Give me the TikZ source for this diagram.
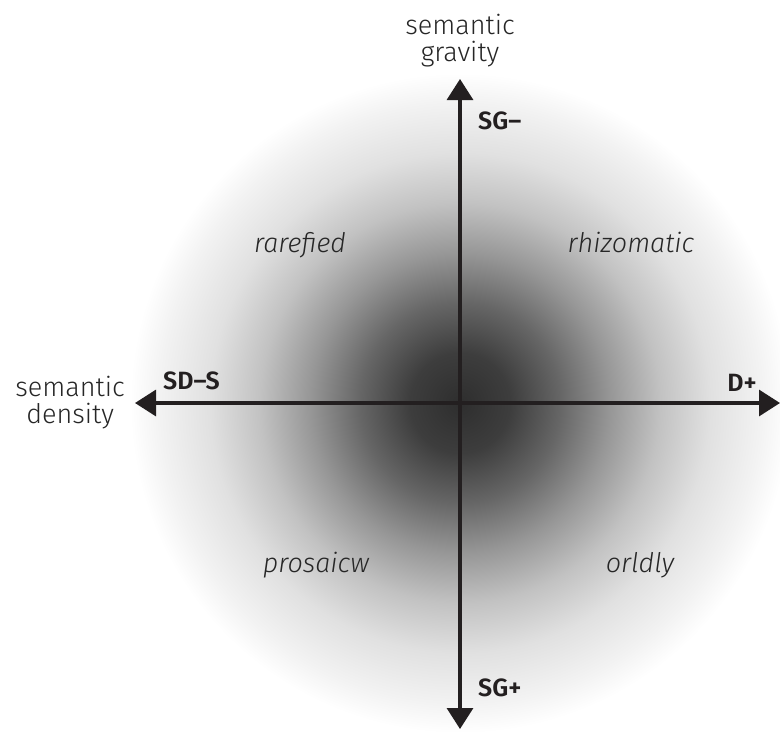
\documentclass[tikz,border=0pt]{standalone}
\usepackage{fontspec}
\setmainfont{Fira Sans}[UprightFont=* Light, ItalicFont=* Light Italic, BoldFont=* SemiBold]
\usetikzlibrary{positioning, arrows.meta}

\definecolor{axisblack}{HTML}{231F20}
\definecolor{labelgray}{HTML}{262626}

\pgfdeclareradialshading{densityblob}{\pgfpoint{0bp}{0bp}}{%
  color(0bp)=(black!82); color(3.8bp)=(black!76); color(7.6bp)=(black!60);
  color(11.35bp)=(black!41); color(15.15bp)=(black!24); color(18.95bp)=(black!12);
  color(22.75bp)=(black!5); color(25bp)=(white); color(50bp)=(white)}

\begin{document}
\begin{tikzpicture}[
  x=1pt, y=-1pt,
  >={Triangle[length=21pt,width=26pt]},
  axis/.style={<->, line width=3.2pt, draw=axisblack},
  pole/.style={font=\fontsize{25}{26}\selectfont\bfseries, text=axisblack, inner sep=0pt},
  dimension/.style={font=\fontsize{27}{27}\selectfont, text=labelgray, align=center, inner sep=0pt},
  quadrant/.style={font=\fontsize{27}{27}\selectfont\itshape, text=labelgray, anchor=base, inner sep=0pt}
]
  \useasboundingbox (0,0) rectangle (780,732);

  \coordinate (origin) at (460,403);
  \coordinate (top) at (460,79);
  \coordinate (bottom) at (460,729);
  \coordinate (left) at (135,403);
  \coordinate (right) at (780,403);

  \shade[shading=densityblob] (origin) circle[radius=330pt];

  \draw[axis] (top) -- (bottom);
  \draw[axis] (left) -- (right);

  \node[dimension, above=12pt of top] (gravity) {semantic\\gravity};
  \node[dimension, left=10pt of left] (density) {semantic\\density};

  \node[pole, anchor=west] (sgminus) at (478,121) {SG--};
  \node[pole, anchor=west] (sgplus) at (478,688) {SG+};
  \node[pole, anchor=west] (sdminus) at (163,381) {SD--S};
  \node[pole, anchor=east] (dplus) at (757,383) {D+};

  \node[quadrant] (rarefied) at (300,252) {rarefied};
  \node[quadrant] (rhizomatic) at (631,252) {rhizomatic};
  \node[quadrant] (prosaic) at (316,572) {prosaicw};
  \node[quadrant] (worldly) at (640,572) {orldly};
\end{tikzpicture}
\end{document}
